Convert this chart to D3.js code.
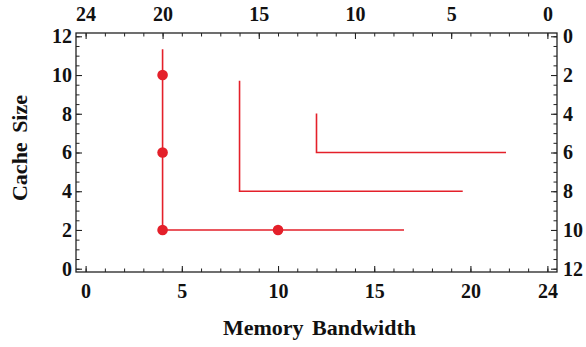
<!DOCTYPE html>
<html>
<head>
<meta charset="utf-8">
<script src="https://cdn.jsdelivr.net/npm/d3@7"></script>
<style>
  html, body { margin: 0; padding: 0; background: #fff; }
  svg { display: block; }
</style>
</head>
<body>
<svg id="chart" width="586" height="347"></svg>
<script>
// Staircase curves: each is a vertical drop followed by a horizontal run
const curveA = [[4, 11.33], [4, 2], [16.55, 2]];
const curveB = [[8, 9.71], [8, 4], [19.6, 4]];
const curveC = [[12, 8.02], [12, 6], [21.85, 6]];
const curves = [curveA, curveB, curveC];

// Highlighted configurations
const pointsX = [4, 4, 4, 10];
const pointsY = [10, 6, 2, 2];

// Tick labels
const bottomTicks = [0, 5, 10, 15, 20, 24];
const topTicks = [24, 20, 15, 10, 5, 0];
const leftTicks = [0, 2, 4, 6, 8, 10, 12];
const rightTicks = [0, 2, 4, 6, 8, 10, 12];
const xMinorTicks = d3.range(0, 25, 1);
const yMinorTicks = d3.range(0, 12.01, 0.5);

const serif = '"Liberation Serif", "Times New Roman", Times, serif';
const svg = d3.select("#chart");
const frame = { left: 76, right: 557, top: 33, bottom: 272 };

const x = d3.scaleLinear().domain([-0.5, 24.5]).range([frame.left, frame.right]);
const xTop = d3.scaleLinear().domain([24.5, -0.5]).range([frame.left, frame.right]);
const y = d3.scaleLinear().domain([-0.17, 12.17]).range([frame.bottom, frame.top]);
const yRight = d3.scaleLinear().domain([12.17, -0.17]).range([frame.bottom, frame.top]);

const red = "#e4202a";

// Minor ticks (no labels)
function minor(axis, pos) {
  const g = svg.append("g").attr("transform", pos).call(axis.tickFormat(""));
  g.select(".domain").remove();
  g.selectAll(".tick line").attr("stroke", "#222").attr("stroke-width", 1);
}
minor(d3.axisBottom(x).tickValues(xMinorTicks).tickSize(-3.5), `translate(0,${frame.bottom})`);
minor(d3.axisTop(xTop).tickValues(xMinorTicks).tickSize(-3.5), `translate(0,${frame.top})`);
minor(d3.axisLeft(y).tickValues(yMinorTicks).tickSize(-3.5), `translate(${frame.left},0)`);
minor(d3.axisRight(yRight).tickValues(yMinorTicks).tickSize(-3.5), `translate(${frame.right},0)`);

// Major ticks with labels
function major(axis, pos) {
  const g = svg.append("g").attr("transform", pos).call(axis)
    .attr("font-family", serif).attr("font-size", 20).attr("font-weight", "bold");
  g.select(".domain").remove();
  g.selectAll(".tick line").attr("stroke", "#222").attr("stroke-width", 1.1);
  g.selectAll(".tick text").attr("fill", "#111");
  return g;
}
major(d3.axisBottom(x).tickValues(bottomTicks).tickSize(-6).tickPadding(12).tickFormat(d3.format("d")), `translate(0,${frame.bottom})`);
major(d3.axisTop(xTop).tickValues(topTicks).tickSize(-6).tickPadding(12).tickFormat(d3.format("d")), `translate(0,${frame.top})`);
major(d3.axisLeft(y).tickValues(leftTicks).tickSize(-6).tickPadding(4).tickFormat(d3.format("d")), `translate(${frame.left},0)`);
major(d3.axisRight(yRight).tickValues(rightTicks).tickSize(-6).tickPadding(6).tickFormat(d3.format("d")), `translate(${frame.right},0)`);

// Frame
svg.append("rect")
  .attr("x", frame.left).attr("y", frame.top)
  .attr("width", frame.right - frame.left).attr("height", frame.bottom - frame.top)
  .attr("fill", "none").attr("stroke", "#222").attr("stroke-width", 1.3);

// Curves
const line = d3.line().x(d => x(d[0])).y(d => y(d[1]));
svg.append("g").selectAll("path")
  .data(curves)
  .join("path")
  .attr("d", line)
  .attr("fill", "none")
  .attr("stroke", red)
  .attr("stroke-width", 1.6);

// Points
svg.append("g").selectAll("circle")
  .data(pointsX.map((v, i) => [v, pointsY[i]]))
  .join("circle")
  .attr("cx", d => x(d[0]))
  .attr("cy", d => y(d[1]))
  .attr("r", 5.3)
  .attr("fill", red);

// Axis titles
svg.append("text")
  .attr("x", (frame.left + frame.right) / 2 + 3).attr("y", 335)
  .attr("text-anchor", "middle")
  .attr("font-family", serif).attr("font-size", 22).attr("font-weight", "bold").attr("fill", "#111")
  .style("word-spacing", "3px")
  .text("Memory Bandwidth");

svg.append("text")
  .attr("transform", `translate(27,148) rotate(-90)`)
  .attr("text-anchor", "middle")
  .attr("font-family", serif).attr("font-size", 22).attr("font-weight", "bold").attr("fill", "#111")
  .style("word-spacing", "4px")
  .text("Cache Size");
</script>
</body>
</html>
